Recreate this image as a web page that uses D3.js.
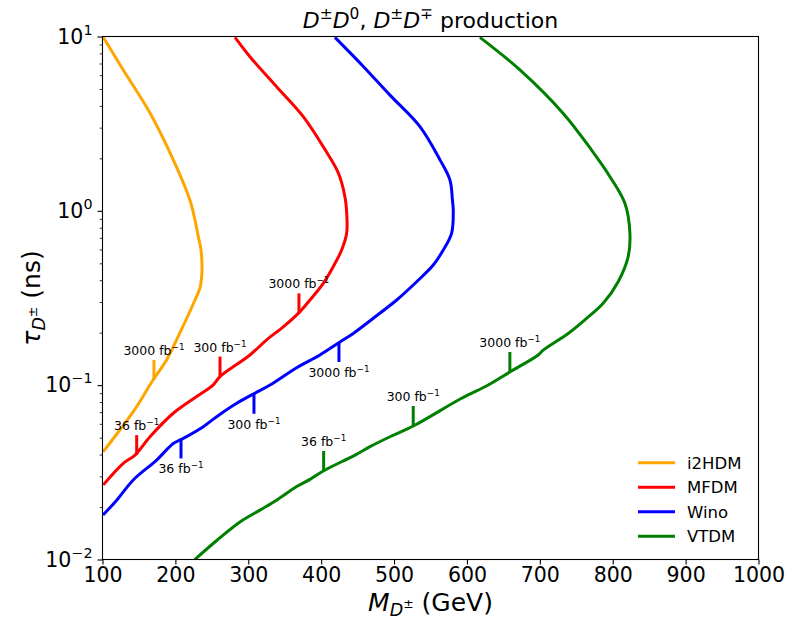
<!DOCTYPE html>
<html><head><meta charset="utf-8">
<script src="https://cdn.jsdelivr.net/npm/d3@7"></script>
<style>body{margin:0;background:#fff} text{font-family:"DejaVu Sans",sans-serif;fill:#000}</style>
</head><body><svg id="c" width="787" height="619"></svg>
<script>
// ---------- data ----------
const seriesNames  = ["i2HDM", "MFDM", "Wino", "VTDM"];
const seriesColors = ["#FFA500", "#FF0000", "#0000FF", "#008000"];

const i2hdmMass = [101.1, 128.5, 165.2, 197.1, 220.0, 226.9, 231.0, 235.1, 236.5, 233.7, 226.9, 206.3, 188.1, 169.3, 146.9, 124.0, 101.1];
const i2hdmTau  = [9.89, 6.43, 3.64, 1.96, 1.15, 0.885, 0.726, 0.596, 0.458, 0.361, 0.308, 0.200, 0.140, 0.107, 0.0753, 0.0555, 0.0416];

const mfdmMass = [281.8, 302.3, 338.9, 375.4, 402.9, 423.5, 432.6, 435.0, 435.0, 428.1, 416.6, 402.9, 384.6, 368.6, 348.0, 325.2, 302.3, 261.2, 252.0, 229.2, 197.1, 165.2, 144.6, 128.5, 101.1];
const mfdmTau  = [9.89, 7.66, 5.15, 3.47, 2.33, 1.65, 1.205, 0.973, 0.746, 0.596, 0.479, 0.384, 0.308, 0.258, 0.216, 0.182, 0.149, 0.112, 0.1005, 0.0861, 0.0690, 0.0506, 0.0397, 0.0356, 0.0268];

const winoMass = [418.9, 455.9, 494.4, 535.5, 563.0, 576.7, 580.1, 581.2, 579.0, 567.5, 553.8, 531.0, 503.6, 471.5, 444.0, 425.8, 398.3, 366.4, 329.8, 306.9, 284.1, 256.6, 238.3, 210.8, 197.1, 174.3, 142.2, 119.5, 100.7];
const winoTau  = [9.89, 6.87, 4.61, 3.04, 1.96, 1.50, 1.15, 1.01, 0.746, 0.596, 0.489, 0.392, 0.308, 0.242, 0.198, 0.177, 0.149, 0.126, 0.1002, 0.0889, 0.0787, 0.0659, 0.0578, 0.0495, 0.0463, 0.0372, 0.0286, 0.0219, 0.0180];

const vtdmMass = [617.8, 672.7, 732.1, 771.0, 796.2, 816.7, 823.6, 821.2, 807.5, 786.9, 761.8, 738.9, 704.6, 697.8, 658.8, 629.2, 592.7, 526.3, 494.4, 467.0, 446.4, 402.9, 384.6, 366.4, 338.9, 316.0, 288.6, 257.1, 225.5];
const vtdmTau  = [9.89, 6.43, 3.62, 2.23, 1.57, 1.104, 0.743, 0.546, 0.392, 0.295, 0.237, 0.198, 0.159, 0.149, 0.119, 0.1002, 0.0841, 0.0583, 0.0506, 0.0444, 0.0397, 0.0322, 0.0288, 0.0262, 0.0219, 0.0192, 0.0164, 0.0129, 0.0099];

// luminosity markers on the curves
const markSeries = [0, 1, 1, 1, 2, 2, 2, 3, 3, 3];
const markLumi   = ["3000", "36", "300", "3000", "36", "300", "3000", "36", "300", "3000"];
const markMass   = [170.6, 146.9, 261.2, 369.5, 207.7, 307.8, 424.4, 403.4, 526.3, 658.9];
const markTau    = [0.107, 0.0397, 0.112, 0.258, 0.0495, 0.0893, 0.177, 0.0322, 0.0583, 0.119];
const markUp     = [true, true, true, true, false, false, false, true, true, true];

const xTicks = [100, 200, 300, 400, 500, 600, 700, 800, 900, 1000];
const yTicks = [0.01, 0.1, 1, 10];
const yTickExp = ["\u22122", "\u22121", "0", "1"];
</script>
<script>
const seriesMass = [i2hdmMass, mfdmMass, winoMass, vtdmMass];
const seriesTau  = [i2hdmTau, mfdmTau, winoTau, vtdmTau];

const L = 102.5, R = 758.5, T = 36.5, B = 559.5;
const svg = d3.select("#c");
const x = d3.scaleLinear().domain([100, 1000]).range([L, R]);
const y = d3.scaleLog().domain([0.01, 10]).range([B, T]);

const clipId = "plotclip";
svg.append("defs").append("clipPath").attr("id", clipId)
  .append("rect").attr("x", L).attr("y", T).attr("width", R - L).attr("height", B - T);

const plot = svg.append("g").attr("clip-path", `url(#${clipId})`);
const line = d3.line().x(d => x(d[0])).y(d => y(d[1])).curve(d3.curveCatmullRom.alpha(0.5));

seriesNames.forEach((n, i) => {
  const pts = seriesMass[i].map((m, k) => [m, seriesTau[i][k]]);
  plot.append("path").datum(pts).attr("d", line)
    .attr("fill", "none").attr("stroke", seriesColors[i]).attr("stroke-width", 3)
    .attr("stroke-linejoin", "round");
});

// markers
const markLen = 20;
markMass.forEach((m, i) => {
  const px = x(m), py = y(markTau[i]);
  const col = seriesColors[markSeries[i]];
  const y2 = markUp[i] ? py - markLen : py + markLen;
  svg.append("line").attr("x1", px).attr("x2", px).attr("y1", py).attr("y2", y2)
    .attr("stroke", col).attr("stroke-width", 3);
  const ty = markUp[i] ? y2 - 5 : y2 + 15;
  const t = svg.append("text").attr("x", px).attr("y", ty).attr("text-anchor", "middle")
    .attr("font-size", 12.5);
  t.append("tspan").text(markLumi[i] + " fb");
  t.append("tspan").attr("font-size", 8.8).attr("dy", -5).text("\u22121");
});

// axes frame
svg.append("rect").attr("x", L).attr("y", T).attr("width", R - L).attr("height", B - T)
  .attr("fill", "none").attr("stroke", "#000").attr("stroke-width", 1.1);

// x axis
const xa = svg.append("g").attr("transform", `translate(0,${B})`)
  .call(d3.axisBottom(x).tickValues(xTicks).tickSize(5).tickPadding(3).tickFormat(d3.format("d")));
xa.select(".domain").remove();
xa.selectAll("line").attr("stroke-width", 1.1);
xa.selectAll("text").attr("font-size", 20.5).attr("font-family", "DejaVu Sans").attr("fill", "#000");

// y axis
const yMinor = y.ticks().filter(v => !yTicks.some(t => Math.abs(t - v) < 1e-9));
const ya = svg.append("g").attr("transform", `translate(${L},0)`)
  .call(d3.axisLeft(y).tickValues(yTicks).tickSize(5).tickPadding(5).tickFormat(() => ""));
ya.select(".domain").remove();
ya.selectAll("line").attr("stroke-width", 1.1);
ya.selectAll(".tick text").each(function(d, i) {
  const t = d3.select(this).attr("font-size", 20.5).attr("font-family", "DejaVu Sans").attr("fill", "#000").attr("dy", "0.32em");
  t.append("tspan").text("10");
  t.append("tspan").attr("font-size", 14.3).attr("dy", -9).text(yTickExp[i]);
});
svg.append("g").attr("transform", `translate(${L},0)`)
  .call(d3.axisLeft(y).tickValues(yMinor).tickSize(2.8).tickFormat(() => ""))
  .call(g => g.select(".domain").remove())
  .selectAll("line").attr("stroke-width", 0.8);

// title
const title = svg.append("text").attr("x", (L + R) / 2).attr("y", 28).attr("text-anchor", "middle").attr("font-size", 22);
const addT = (el, s, opt = {}) => {
  const ts = el.append("tspan").text(s);
  if (opt.it) ts.attr("font-style", "italic");
  if (opt.fs) ts.attr("font-size", opt.fs);
  if (opt.dy) ts.attr("dy", opt.dy);
  return ts;
};
addT(title, "D", {it: true}); addT(title, "\u00b1", {fs: 15.4, dy: -9});
addT(title, "D", {it: true, dy: 9}); addT(title, "0", {fs: 15.4, dy: -9});
addT(title, ", ", {dy: 9}); addT(title, "D", {it: true}); addT(title, "\u00b1", {fs: 15.4, dy: -9});
addT(title, "D", {it: true, dy: 9}); addT(title, "\u2213", {fs: 15.4, dy: -9});
addT(title, " production", {dy: 9});

// x label
const xl = svg.append("text").attr("x", (L + R) / 2).attr("y", 611).attr("text-anchor", "middle").attr("font-size", 25);
addT(xl, "M", {it: true}); addT(xl, "D", {it: true, fs: 17.5, dy: 5}); addT(xl, "\u00b1", {fs: 12.5, dy: -8});
addT(xl, " (GeV)", {dy: 3});

// y label
const yl = svg.append("text").attr("transform", `translate(40,${(T + B) / 2}) rotate(-90)`).attr("text-anchor", "middle").attr("font-size", 25);
addT(yl, "\u03c4", {it: true}); addT(yl, "D", {it: true, fs: 17.5, dy: 5}); addT(yl, "\u00b1", {fs: 12.5, dy: -8});
addT(yl, " (ns)", {dy: 3});

// legend
const lg = svg.append("g");
seriesNames.forEach((n, i) => {
  const ly = 462.7 + i * 24.5;
  lg.append("line").attr("x1", 638).attr("x2", 675).attr("y1", ly).attr("y2", ly)
    .attr("stroke", seriesColors[i]).attr("stroke-width", 3);
  lg.append("text").attr("x", 687).attr("y", ly).attr("dy", "0.36em").attr("font-size", 16.5).text(n);
});
</script></body></html>
